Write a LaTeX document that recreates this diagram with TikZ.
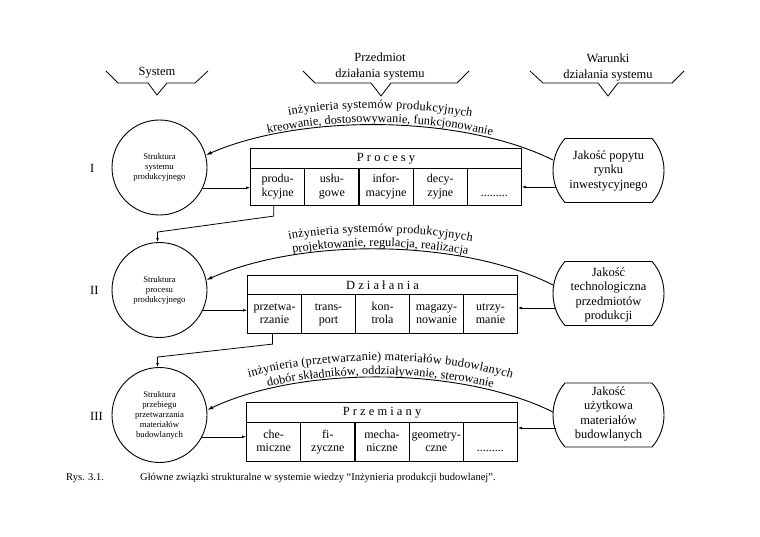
\documentclass[tikz,border=0pt]{standalone}
\usepackage{fontspec}
\setmainfont{Liberation Serif}
\usetikzlibrary{arrows.meta,calc,decorations.text}
\newcommand\arcfont{\fontsize{12.3}{15}\selectfont}
\newcommand\twoline[2]{\strut#1\\\strut#2}
\begin{document}
\begin{tikzpicture}[x=1pt,y=-1pt,
  hdr/.style={font=\fontsize{12.5}{16}\selectfont, align=center, inner sep=0pt},
  brk/.style={line width=0.8pt},
  circ/.style={circle, draw, line width=0.9pt, minimum size=95pt, inner sep=0pt, align=center, font=\fontsize{8.7}{10}\selectfont},
  boxhead/.style={draw, line width=1.1pt, minimum height=20pt, inner sep=0pt, anchor=north west, font=\fontsize{12.5}{15}\selectfont},
  cell/.style={draw, line width=1.1pt, inner sep=0pt, anchor=north west, align=center, font=\fontsize{12}{13.5}\selectfont},
  qtext/.style={align=center, font=\fontsize{12.5}{14.5}\selectfont, inner sep=0pt},
  qshape/.style={line width=0.9pt},
  thinarrow/.style={line width=0.5pt, -{Latex[length=4pt,width=2.8pt]}},
  arcline/.style={line width=0.9pt, -{Latex[length=6pt,width=3.6pt]}},
  roman/.style={font=\fontsize{12.5}{15}\selectfont, anchor=west, inner sep=0pt},
  captext/.style={font=\fontsize{10.5}{12}\selectfont, anchor=west, inner sep=0pt}
]
\useasboundingbox (0,0) rectangle (760,537);

% ---- header brackets
\node[hdr] (hs) at (157,73) {System};
\draw[brk] (106,71) -- (118,83) -- (148,83) -- (157,95) -- (167,83) -- (195,83) -- (208,71);
\node[hdr] (hp) at (380,67) {Przedmiot\\działania systemu};
\draw[brk] (303,71) -- (315,83) -- (371,83) -- (381,96) -- (391,83) -- (457,83) -- (469,71);
\node[hdr] (hw) at (608,68) {Warunki\\działania systemu};
\draw[brk] (530,71) -- (543,83) -- (598,83) -- (608,96) -- (618,83) -- (672,83) -- (684,71);

% ---- roman numerals
\node[roman] (r1) at (90,168) {I};
\node[roman] (r2) at (90,290) {II};
\node[roman] (r3) at (90,416) {III};

% ---- circles
\node[circ] (c1) at (159.5,167.5) {Struktura\\systemu\\produkcyjnego};
\node[circ] (c2) at (159.5,290) {Struktura\\procesu\\produkcyjnego};
\node[circ] (c3) at (159.5,415) {Struktura\\przebiegu\\przetwarzania\\materiałów\\budowlanych};

% ---- box I: Procesy
\node[boxhead, minimum width=271pt] (ph) at (250,148) {P r o c e s y};
\foreach \i/\a/\b in {1/produ-/kcyjne,2/usłu-/gowe,3/infor-/macyjne,4/decy-/zyjne}
  \node[cell, minimum width=54.2pt, minimum height=37pt] (p\i) at ({250+54.2*(\i-1)},168) {\twoline{\a}{\b}};
\node[cell, minimum width=54.2pt, minimum height=37pt] (p5) at ({250+54.2*4},168) {\twoline{}{.........}};

% ---- box II: Dzialania
\node[boxhead, minimum width=270pt, minimum height=19pt] (dh) at (247,275) {D z i a ł a n i a};
\foreach \i/\a/\b in {1/przetwa-/rzanie,2/trans-/port,3/kon-/trola,4/magazy-/nowanie,5/utrzy-/manie}
  \node[cell, minimum width=54pt, minimum height=39pt] (d\i) at ({247+54*(\i-1)},294) {\twoline{\a}{\b}};

% ---- box III: Przemiany
\node[boxhead, minimum width=271pt] (mh) at (246,402) {P r z e m i a n y};
\foreach \i/\a/\b in {1/che-/miczne,2/fi-/zyczne,3/mecha-/niczne,4/geometry-/czne}
  \node[cell, minimum width=54.2pt, minimum height=39pt] (m\i) at ({246+54.2*(\i-1)},422) {\twoline{\a}{\b}};
\node[cell, minimum width=54.2pt, minimum height=39pt] (m5) at ({246+54.2*4},422) {\twoline{}{.........}};

% ---- quality nodes
\node[qtext] (q1) at (608.5,171) {Jakość popytu\\rynku\\inwestycyjnego};
\node[qtext] (q2) at (608.5,295) {Jakość\\technologiczna\\przedmiotów\\produkcji};
\node[qtext] (q3) at (608.5,414) {Jakość\\użytkowa\\materiałów\\budowlanych};
\foreach \q/\cy in {q1/170.5,q2/293.5,q3/415}
  \draw[qshape, shift={(608.5,\cy)}] (-43.5,-32) -- (43.5,-32)
     .. controls (59.5,-14) and (59.5,14) .. (43.5,32) -- (-43.5,32)
     .. controls (-59.5,14) and (-59.5,-14) .. (-43.5,-32) -- cycle;

\coordinate (qa1) at (553,160);
\coordinate (qb1) at (556,187);
\coordinate (qa2) at (553,285);
\coordinate (qb2) at (556,308);
\coordinate (qa3) at (553,412);
\coordinate (qb3) at (556,428);

% ---- horizontal connectors
\draw[thinarrow] (c1.-25) -- (c1.-25 -| p1.west);
\draw[thinarrow] (c2.-25) -- (c2.-25 -| d1.west);
\draw[thinarrow] (c3.-27) -- (c3.-27 -| m1.west);
\draw[thinarrow] (qb1) -- (qb1 -| p5.east);
\draw[thinarrow] (qb2) -- (qb2 -| d5.east);
\draw[thinarrow] (qb3) -- (qb3 -| m5.east);

% ---- vertical connectors
\draw[thinarrow, line width=0.8pt] ($(p1.south)+(-4,0)$) -- ++(0,10) -- ($(c2.north)+(-2,-10)$) -- ($(c2.north)+(-2,0)$);
\draw[thinarrow, line width=0.8pt] ($(d1.south)+(-2,0)$) -- ++(0,10) -- ($(c3.north)+(-2,-10)$) -- ($(c3.north)+(-2,0)$);

% ---- arcs
\draw[arcline] (qa1) .. controls (460,114) and (300,114) .. (c1.15);
\path[decorate, decoration={text along path, text={|\arcfont|kreowanie, dostosowywanie, funkcjonowanie}, text align=center, raise=2.5pt}]
  (c1.15) .. controls (300,114) and (460,114) .. (qa1);
\path[decorate, decoration={text along path, text={|\arcfont|inżynieria systemów produkcyjnych}, text align=center, raise=16.5pt}]
  (c1.15) .. controls (300,114) and (460,114) .. (qa1);

\draw[arcline] (qa2) .. controls (460,238) and (300,238) .. (c2.12);
\path[decorate, decoration={text along path, text={|\arcfont|projektowanie, regulacja, realizacja}, text align=center, raise=2.5pt}]
  (c2.12) .. controls (300,238) and (460,238) .. (qa2);
\path[decorate, decoration={text along path, text={|\arcfont|inżynieria systemów produkcyjnych}, text align=center, raise=16.5pt}]
  (c2.12) .. controls (300,238) and (460,238) .. (qa2);

\draw[arcline] (qa3) .. controls (460,366) and (300,366) .. (c3.6);
\path[decorate, decoration={text along path, text={|\arcfont|dobór składników, oddziaływanie, sterowanie}, text align=center, raise=2.5pt}]
  (c3.6) .. controls (300,366) and (460,366) .. (qa3);
\path[decorate, decoration={text along path, text={|\arcfont|inżynieria (przetwarzanie) materiałów budowlanych}, text align=center, raise=16.5pt}]
  (c3.6) .. controls (300,366) and (460,366) .. (qa3);

% ---- caption
\node[captext] (rys) at (66,478) {Rys. 3.1.};
\node[captext] (capt) at (140,478) {Główne związki strukturalne w systemie wiedzy “Inżynieria produkcji budowlanej”.};
\end{tikzpicture}
\end{document}
